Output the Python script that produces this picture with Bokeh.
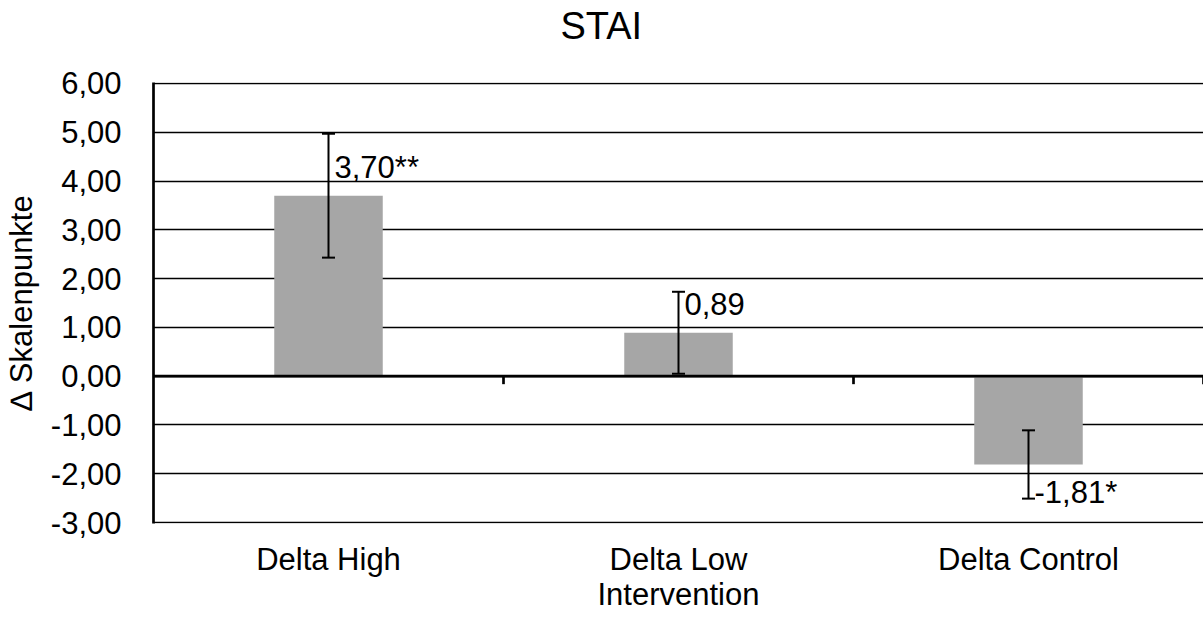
from bokeh.plotting import figure
from bokeh.models import (ColumnDataSource, FactorRange, Range1d, FixedTicker,
                          CustomJSTickFormatter, Whisker, TeeHead, LabelSet,
                          Span, Title, LinearAxis)
from bokeh.embed import file_html
from bokeh.resources import INLINE
from bokeh.core.properties import value

# ---- data ----
categories = ["Delta High", "Delta Low", "Delta Control"]
means = [3.70, 0.89, -1.81]
errors = [1.27, 0.84, 0.70]
stars = ["**", "", "*"]
y_ticks = [-3, -2, -1, 0, 1, 2, 3, 4, 5, 6]
title_text = "STAI"
x_title = "Intervention"
y_title = "\u2206 Skalenpunkte"

FONT = "Liberation Sans"
FS = "31px"

labels = [f"{m:.2f}".replace(".", ",") + s for m, s in zip(means, stars)]
lower = [m - e for m, e in zip(means, errors)]
upper = [m + e for m, e in zip(means, errors)]
label_off = [18 if m >= 0 else -39 for m in means]
boundaries = list(range(1, len(categories) + 1))

y_start, y_end = y_ticks[0] - 0.02, y_ticks[-1] + 0.02
FRAME_H = 441
FRAME_W = 1050
px_per_unit = FRAME_H / (y_end - y_start)
tick_len = 8 / px_per_unit

src = ColumnDataSource(dict(cat=categories, mean=means, lower=lower,
                            upper=upper, label=labels, off=label_off))
tick_src = ColumnDataSource(dict(x=boundaries, y0=[0] * len(boundaries),
                                 y1=[-tick_len] * len(boundaries)))

p = figure(x_range=FactorRange(*categories), y_range=Range1d(y_start, y_end),
           frame_width=FRAME_W, frame_height=FRAME_H,
           output_backend="svg", toolbar_location=None,
           min_border_left=153, min_border_right=0, min_border_top=82,
           min_border_bottom=96, title=None)
p.outline_line_color = None
p.background_fill_color = "white"
p.border_fill_color = "white"

# grid
p.xgrid.grid_line_color = None
p.ygrid.ticker = FixedTicker(ticks=y_ticks)
p.ygrid.grid_line_color = "black"
p.ygrid.grid_line_width = 1.4

# y axis
yax = p.yaxis[0]
yax.ticker = FixedTicker(ticks=y_ticks)
yax.formatter = CustomJSTickFormatter(code="return tick.toFixed(2).replace('.', ',');")
yax.axis_line_color = "black"
yax.axis_line_width = 2.7
yax.major_tick_line_color = None
yax.minor_tick_line_color = None
yax.major_label_text_font = FONT
yax.major_label_text_font_size = FS
yax.major_label_text_color = "black"
yax.major_label_standoff = 26
yax.axis_label = y_title
yax.axis_label_text_font = FONT
yax.axis_label_text_font_size = FS
yax.axis_label_text_font_style = "normal"
yax.axis_label_text_color = "black"
yax.axis_label_standoff = 9

# x axis (category labels at bottom)
xax = p.xaxis[0]
xax.axis_line_color = None
xax.major_tick_line_color = None
xax.minor_tick_line_color = None
xax.major_label_text_font = FONT
xax.major_label_text_font_size = FS
xax.major_label_text_color = "black"
xax.major_label_standoff = 12
xax.axis_label = x_title
xax.axis_label_text_font = FONT
xax.axis_label_text_font_size = FS
xax.axis_label_text_font_style = "normal"
xax.axis_label_text_color = "black"
xax.axis_label_standoff = -3

# invisible spacer axis above the frame, so the title sits higher
spacer = LinearAxis(ticker=FixedTicker(ticks=boundaries[:1]), axis_line_color=None,
                    major_tick_line_color=None, minor_tick_line_color=None,
                    major_tick_in=0, major_tick_out=36, minor_tick_out=0,
                    major_label_standoff=0, major_label_text_font_size="0px",
                    formatter=CustomJSTickFormatter(code="return '';"))
p.add_layout(spacer, "above")

t = Title(text=title_text, align="left", offset=407, text_font=FONT,
          text_font_size="38px", text_font_style="normal", text_color="black",
          standoff=0)
p.add_layout(t, "above")

# bars
p.vbar(x="cat", top="mean", bottom=0, width=0.31, source=src,
       fill_color="#a6a6a6", line_color=None)

# zero line and category boundary ticks
p.add_layout(Span(location=0, dimension="width", line_color="black", line_width=2.7))
p.segment(x0="x", y0="y0", x1="x", y1="y1", source=tick_src,
          line_color="black", line_width=2.7)

# error bars
w = Whisker(base="cat", upper="upper", lower="lower", source=src,
            line_color="black", line_width=2, level="overlay",
            upper_head=TeeHead(size=13, line_color="black", line_width=2),
            lower_head=TeeHead(size=13, line_color="black", line_width=2))
p.add_layout(w)

# value labels
ls = LabelSet(x="cat", y="mean", text="label", x_offset=6, y_offset="off",
              source=src, text_font=value(FONT), text_font_size=FS,
              text_color="black", text_align="left", text_baseline="alphabetic")
p.add_layout(ls)

open("out.html", "w").write(file_html(p, INLINE))
